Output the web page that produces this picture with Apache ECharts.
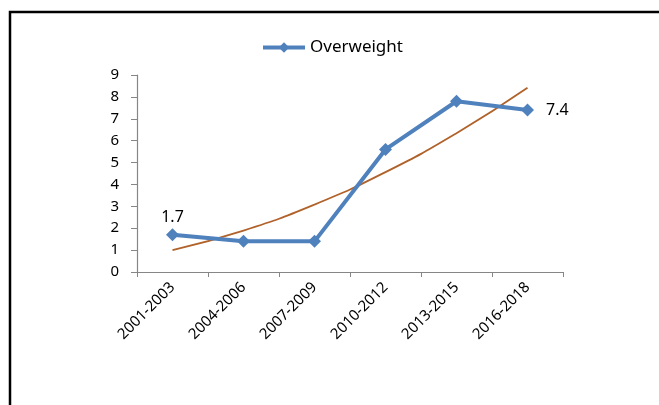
<!DOCTYPE html>
<html><head><meta charset="utf-8">
<script src="https://cdn.jsdelivr.net/npm/echarts@6/dist/echarts.min.js"></script>
<style>html,body{margin:0;padding:0;background:#fff}#c{width:659px;height:405px}</style>
</head><body><div id="c"></div>
<script>
var categories = ['2001-2003','2004-2006','2007-2009','2010-2012','2013-2015','2016-2018'];
var overweight = [1.7, 1.4, 1.4, 5.6, 7.8, 7.4];
var yTicks = [0,1,2,3,4,5,6,7,8,9];

// Polynomial (order 2) least-squares trendline from the data
function polyFit(ys){
  var n=ys.length, S=[0,0,0,0,0], T=[0,0,0];
  for(var i=0;i<n;i++){var x=i+1;for(var k=0;k<5;k++)S[k]+=Math.pow(x,k);for(var k2=0;k2<3;k2++)T[k2]+=Math.pow(x,k2)*ys[i];}
  var M=[[S[0],S[1],S[2],T[0]],[S[1],S[2],S[3],T[1]],[S[2],S[3],S[4],T[2]]];
  for(var c=0;c<3;c++){for(var r=c+1;r<3;r++){var f=M[r][c]/M[c][c];for(var j=c;j<4;j++)M[r][j]-=f*M[c][j];}}
  var coef=[0,0,0];
  for(var r2=2;r2>=0;r2--){var s=M[r2][3];for(var j2=r2+1;j2<3;j2++)s-=M[r2][j2]*coef[j2];coef[r2]=s/M[r2][r2];}
  return ys.map(function(_,i){var x=i+1;return coef[0]+coef[1]*x+coef[2]*x*x;});
}
var trend = polyFit(overweight);

var font = 'Noto Sans';
var lastIdx = overweight.length-1;
var chart = echarts.init(document.getElementById('c'));
chart.setOption({
  animation:false,
  backgroundColor:'#fff',
  graphic:[{type:'rect',shape:{x:10,y:12,width:700,height:500},style:{fill:'none',stroke:'#000',lineWidth:2.5},silent:true}],
  legend:{
    data:[{name:'Overweight'}],
    top:34, left:256,
    itemWidth:42, itemHeight:13, itemGap:3,
    lineStyle:{width:4,color:'#4F81BD'},
    textStyle:{fontFamily:font,fontSize:17,color:'#000'}
  },
  grid:{left:137,right:96,top:75,bottom:133},
  xAxis:{
    type:'category', data:categories, boundaryGap:true,
    axisLine:{lineStyle:{color:'#868686',width:1.2}},
    axisTick:{show:true,length:5,lineStyle:{color:'#868686'}},
    axisLabel:{rotate:45,fontFamily:font,fontSize:15,color:'#000',margin:13}
  },
  yAxis:{
    type:'value', min:yTicks[0], max:yTicks[yTicks.length-1], interval:1,
    splitLine:{show:false},
    axisLine:{show:true,lineStyle:{color:'#868686',width:1.2}},
    axisTick:{show:true,length:6,lineStyle:{color:'#868686'}},
    axisLabel:{fontFamily:font,fontSize:15,color:'#000',margin:18}
  },
  series:[
    {name:'Trend',type:'line',data:trend,smooth:true,symbol:'none',
     lineStyle:{color:'#B0622A',width:1.8},z:1},
    {name:'Overweight',type:'line',
     data:overweight.map(function(v,i){
       if(i===0) return {value:v,label:{show:true,position:'top',distance:3}};
       if(i===lastIdx) return {value:v,label:{show:true,position:'right',distance:12}};
       return v;}),
     symbol:'diamond',symbolSize:13,
     lineStyle:{color:'#4F81BD',width:4},
     itemStyle:{color:'#4F81BD'},
     label:{show:false,fontFamily:font,fontSize:16,color:'#000',
       formatter:function(p){return p.value.toFixed(1);}},
     z:3}
  ]
});
</script></body></html>
